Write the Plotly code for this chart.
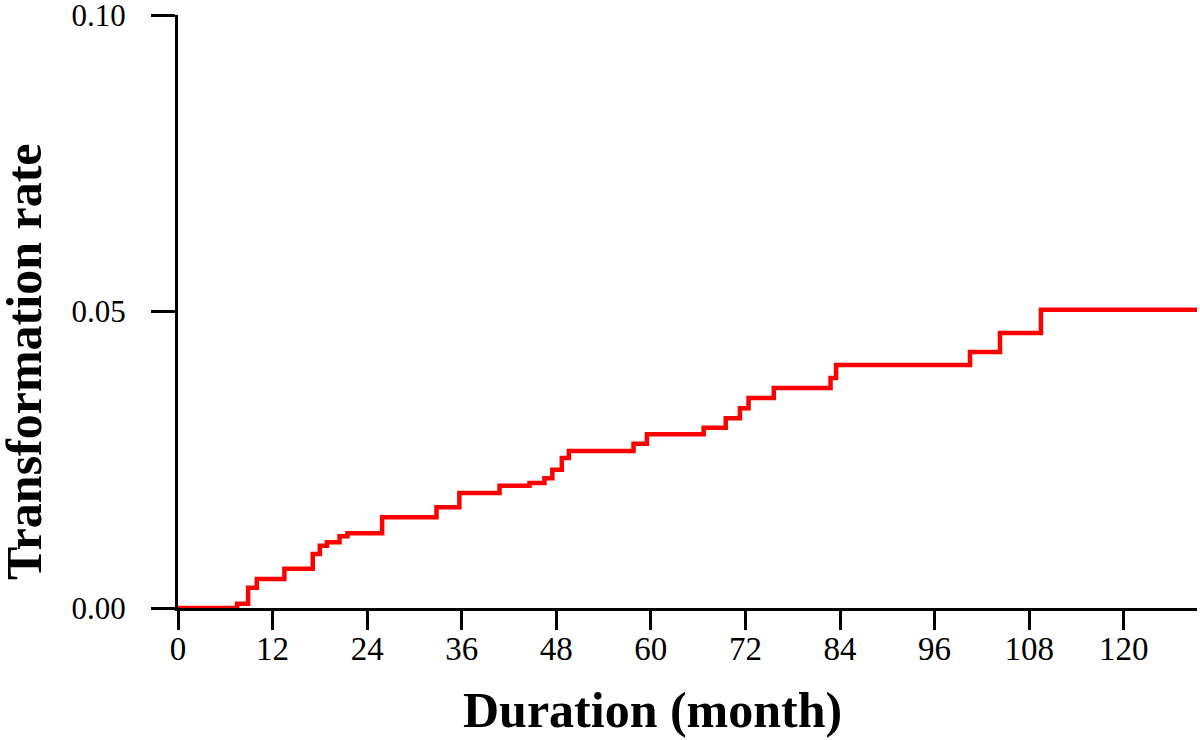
import plotly.graph_objects as go

# Step times (months) and cumulative transformation rate
months = [0, 7.5, 8.9, 10.0, 13.5, 17.1, 18.0, 18.9, 20.5, 21.5, 25.9, 32.8, 35.7,
          40.8, 44.6, 46.5, 47.5, 48.7, 49.6, 57.8, 59.5, 66.7, 69.5, 71.3, 72.4,
          75.6, 82.8, 83.5, 100.5, 104.3, 109.5, 129.3]
rates = [0.0, 0.0007, 0.0034, 0.0049, 0.0066, 0.0091, 0.0105, 0.0111, 0.0121, 0.0126,
         0.0153, 0.0170, 0.0194, 0.0206, 0.0211, 0.0219, 0.0233, 0.0253, 0.0265,
         0.0277, 0.0293, 0.0304, 0.0320, 0.0337, 0.0354, 0.0371, 0.0388, 0.0410,
         0.0432, 0.0464, 0.0503, 0.0503]

x_ticks = [0, 12, 24, 36, 48, 60, 72, 84, 96, 108, 120]
y_ticks = [0.0, 0.05, 0.10]
y_tick_labels = ["0.00", "0.05", "0.10"]

x_title = "Duration (month)"
y_title = "Transformation rate"

FONT = "Liberation Serif"

fig = go.Figure()
fig.add_trace(go.Scatter(
    x=months, y=rates, mode="lines",
    line=dict(color="#ff0000", width=4.5, shape="hv"),
    showlegend=False, hoverinfo="skip",
))

fig.update_layout(
    width=1200, height=740,
    margin=dict(l=178, r=3, t=15, b=132, autoexpand=False),
    paper_bgcolor="white", plot_bgcolor="white",
    font=dict(family=FONT, color="black"),
)

fig.update_xaxes(
    range=[0, 129.3], tickvals=x_ticks, ticktext=[str(v) for v in x_ticks],
    showline=True, linecolor="black", linewidth=3,
    ticks="outside", ticklen=19, tickwidth=3, tickcolor="black",
    showgrid=False, zeroline=False, automargin=False,
    tickfont=dict(family=FONT, size=33, color="black"),
    ticklabelstandoff=-10, ticklabeloverflow="allow",
)
fig.update_yaxes(
    range=[0, 0.10002], tickvals=y_ticks, ticktext=y_tick_labels,
    showline=True, linecolor="black", linewidth=3,
    ticks="outside", ticklen=24, tickwidth=3, tickcolor="black",
    showgrid=False, zeroline=False, automargin=False,
    tickfont=dict(family=FONT, size=31, color="black"),
    ticklabelstandoff=19, ticklabeloverflow="allow",
)

fig.add_annotation(
    text=x_title, xref="paper", yref="paper",
    x=(652 - 178) / 1019, y=(608 - 710) / 593,
    xanchor="center", yanchor="middle", showarrow=False,
    font=dict(family=FONT, size=50, color="black", weight="bold"),
)
fig.add_annotation(
    text=y_title, xref="paper", yref="paper",
    x=(24 - 178) / 1019, y=(608 - 362) / 593, textangle=-90,
    xanchor="center", yanchor="middle", showarrow=False,
    font=dict(family=FONT, size=50, color="black", weight="bold"),
)

fig.write_html("out.html", config={"displayModeBar": False},
               post_script="document.body.style.margin='0px';")
